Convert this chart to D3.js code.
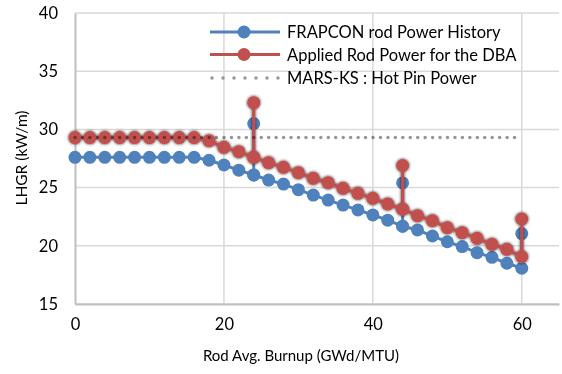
<!DOCTYPE html>
<html>
<head>
<meta charset="utf-8">
<script src="https://cdn.jsdelivr.net/npm/d3@7"></script>
<style>
  body { margin: 0; background: #fff; }
  svg { display: block; font-family: Lato, "Open Sans", sans-serif; }
</style>
</head>
<body>
<svg id="chart" width="562" height="374"></svg>
<script>
// burnup steps (GWd/MTU)
const burnup = [0, 2, 4, 6, 8, 10, 12, 14, 16, 18, 20, 22, 24, 26, 28, 30,
  32, 34, 36, 38, 40, 42, 44, 46, 48, 50, 52, 54, 56, 58, 60];
const frapcon = [27.6, 27.6, 27.6, 27.6, 27.6, 27.6, 27.6, 27.6, 27.6, 27.35, 26.94, 26.5,
  26.08, 25.65, 25.3, 24.82, 24.36, 23.93, 23.5, 23.08, 22.65, 22.2, 21.68, 21.36,
  20.84, 20.35, 19.93, 19.41, 19.01, 18.5, 18.07];
const applied = [29.3, 29.3, 29.3, 29.3, 29.3, 29.3, 29.3, 29.3, 29.3, 29.03, 28.46, 28.09,
  27.6, 27.14, 26.74, 26.28, 25.8, 25.42, 24.94, 24.51, 24.08, 23.59, 23.14, 22.59,
  22.16, 21.56, 21.13, 20.64, 20.13, 19.7, 19.06];
// power jumps at the DBA points
const spikeBurnup = [24, 44, 60];
const frapconSpike = [30.5, 25.4, 21.05];
const appliedSpike = [32.3, 26.9, 22.3];
const hotPin = 29.3;
const hotPinRange = [0, 60];
const xTicks = [0, 20, 40, 60];
const yTicks = [15, 20, 25, 30, 35, 40];

const svg = d3.select("#chart");
const margin = { left: 75, right: 3, top: 13, bottom: 70 };
const W = 562, H = 374;

const x = d3.scaleLinear().domain([0, 65]).range([margin.left, W - margin.right]);
const y = d3.scaleLinear().domain([15, 40]).range([H - margin.bottom, margin.top]);

// series with the vertical jump inserted
function buildSeries(vals, spikes) {
    const pts = [];
    burnup.forEach((b, i) => {
        pts.push([b, vals[i]]);
        const k = spikeBurnup.indexOf(b);
        if (k >= 0) {
            pts.push([b, spikes[k]]);
            if (i < burnup.length - 1) pts.push([b, vals[i]]);
        }
    });
    return pts;
}
const bluePts = buildSeries(frapcon, frapconSpike);
const redPts = buildSeries(applied, appliedSpike);

const defs = svg.append("defs");
defs.append("filter")
    .attr("id", "shadow")
    .attr("x", "-20%").attr("y", "-20%")
    .attr("width", "140%").attr("height", "140%")
    .append("feDropShadow")
    .attr("dx", 0).attr("dy", 0)
    .attr("stdDeviation", 1.4)
    .attr("flood-color", "#000")
    .attr("flood-opacity", 0.85);

// grid
svg.append("g")
    .selectAll("line")
    .data(yTicks)
    .join("line")
    .attr("x1", x(0)).attr("x2", x(65))
    .attr("y1", d => y(d)).attr("y2", d => y(d))
    .attr("stroke", "#d9d9d9")
    .attr("stroke-width", 1.5);

svg.append("g")
    .selectAll("line")
    .data(xTicks.slice(1))
    .join("line")
    .attr("x1", d => x(d)).attr("x2", d => x(d))
    .attr("y1", y(15)).attr("y2", y(40))
    .attr("stroke", "#d9d9d9")
    .attr("stroke-width", 1.5);

// axes
const xAxis = svg.append("g")
    .attr("transform", `translate(0,${y(15)})`)
    .call(d3.axisBottom(x).tickValues(xTicks).tickSize(0).tickPadding(14));
const yAxis = svg.append("g")
    .attr("transform", `translate(${x(0)},0)`)
    .call(d3.axisLeft(y).tickValues(yTicks).tickSize(0).tickPadding(17));
[xAxis, yAxis].forEach(g => {
    g.select(".domain").attr("stroke", "#bfbfbf").attr("stroke-width", 2);
    g.selectAll("text")
        .attr("font-size", 16.5)
        .attr("fill", "#000")
        .attr("font-family", "Lato, sans-serif");
});

svg.append("text")
    .attr("x", 301).attr("y", 361)
    .attr("text-anchor", "middle")
    .attr("font-size", 15)
    .text("Rod Avg. Burnup (GWd/MTU)");

svg.append("text")
    .attr("transform", `translate(27,${158}) rotate(-90)`)
    .attr("text-anchor", "middle")
    .attr("font-size", 15.5)
    .text("LHGR (kW/m)");

const line = d3.line().x(d => x(d[0])).y(d => y(d[1]));
const blue = "#4f81bd", red = "#c0504d";

// FRAPCON series
const gBlue = svg.append("g");
gBlue.append("path")
    .datum(bluePts)
    .attr("d", line)
    .attr("fill", "none")
    .attr("stroke", blue)
    .attr("stroke-width", 3);
gBlue.selectAll("circle")
    .data(bluePts)
    .join("circle")
    .attr("cx", d => x(d[0])).attr("cy", d => y(d[1]))
    .attr("r", 6.5)
    .attr("fill", blue);

// applied DBA series
const gRed = svg.append("g").attr("filter", "url(#shadow)");
gRed.append("path")
    .datum(redPts)
    .attr("d", line)
    .attr("fill", "none")
    .attr("stroke", red)
    .attr("stroke-width", 3);
gRed.selectAll("circle")
    .data(redPts)
    .join("circle")
    .attr("cx", d => x(d[0])).attr("cy", d => y(d[1]))
    .attr("r", 6.5)
    .attr("fill", red);

// hot pin level
svg.append("line")
    .attr("x1", x(hotPinRange[0])).attr("x2", x(hotPinRange[1]))
    .attr("y1", y(hotPin)).attr("y2", y(hotPin))
    .attr("stroke", "#969696")
    .attr("stroke-width", 3.5)
    .attr("stroke-linecap", "round")
    .attr("stroke-dasharray", "0 7.45")
    .style("mix-blend-mode", "multiply");

// legend
const legend = svg.append("g").attr("transform", "translate(210,0)");
const rows = [
    { label: "FRAPCON rod Power History", color: blue, y: 32, marker: true },
    { label: "Applied Rod Power for the DBA", color: red, y: 54.5, marker: true },
    { label: "MARS-KS : Hot Pin Power", color: "#969696", y: 78, marker: false }
];
rows.forEach(r => {
    const g = legend.append("g");
    if (r.marker) {
        g.append("line")
            .attr("x1", 0).attr("x2", 70)
            .attr("y1", r.y).attr("y2", r.y)
            .attr("stroke", r.color).attr("stroke-width", 3);
        g.append("circle")
            .attr("cx", 34).attr("cy", r.y).attr("r", 6.5)
            .attr("fill", r.color);
    } else {
        g.append("line")
            .attr("x1", 2).attr("x2", 70)
            .attr("y1", r.y).attr("y2", r.y)
            .attr("stroke", r.color).attr("stroke-width", 3.5)
            .attr("stroke-linecap", "round")
            .attr("stroke-dasharray", "0 11");
    }
    g.append("text")
        .attr("x", 77).attr("y", r.y + 6)
        .attr("font-size", 16.5)
        .text(r.label);
});
</script>
</body>
</html>
